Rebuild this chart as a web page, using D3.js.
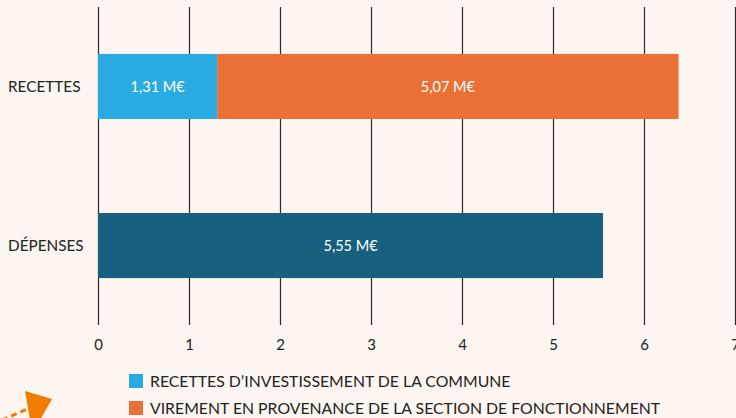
<!DOCTYPE html>
<html>
<head>
<meta charset="utf-8">
<script src="https://cdn.jsdelivr.net/npm/d3@7"></script>
<style>
  html, body { margin: 0; padding: 0; background: #fdf5ef; }
  svg { display: block; font-family: Lato, "Open Sans", sans-serif; }
</style>
</head>
<body>
<script>
// ===============================
// DONNÉES
// ===============================
const categories = ["RECETTES", "DÉPENSES"];
const seriesKeys = ["invest", "virement", "depenses"];
const seriesLabels = [
  "RECETTES D\u2019INVESTISSEMENT DE LA COMMUNE",
  "VIREMENT EN PROVENANCE DE LA SECTION DE FONCTIONNEMENT"
];
const investValues = [1.31, 0];
const virementValues = [5.07, 0];
const depensesValues = [0, 5.55];
const xTicks = [0, 1, 2, 3, 4, 5, 6, 7];

// ===============================
// CONFIGURATION
// ===============================
const width = 736;
const height = 418;
const colors = { invest: "#29abe2", virement: "#eb7035", depenses: "#17607f" };

const svg = d3.select("body").append("svg")
  .attr("width", width)
  .attr("height", height);

const x = d3.scaleLinear().domain([0, 7]).range([98, 735]);
const y = d3.scaleBand()
  .domain(categories)
  .range([7, 325])
  .paddingInner(0.591)
  .paddingOuter(0.295);

// gridlines
svg.append("g")
  .selectAll("line")
  .data(xTicks)
  .join("line")
  .attr("x1", d => x(d) + 0.5)
  .attr("x2", d => x(d) + 0.5)
  .attr("y1", y.range()[0])
  .attr("y2", y.range()[1])
  .attr("stroke", "#2b2b2b")
  .attr("stroke-width", 1.2);

// tick labels
const axis = svg.append("g")
  .attr("transform", `translate(0,${y.range()[1]})`)
  .call(d3.axisBottom(x).tickValues(xTicks).tickFormat(d3.format("d")).tickSize(0).tickPadding(14));
axis.select(".domain").remove();
axis.selectAll("text")
  .attr("font-family", "Lato, sans-serif")
  .attr("font-size", 15)
  .attr("fill", "#222");

// stacked bars
const rows = categories.map((c, i) => ({
  cat: c, invest: investValues[i], virement: virementValues[i], depenses: depensesValues[i]
}));
const stack = d3.stack().keys(seriesKeys)(rows);

const fmt = v => d3.format(".2f")(v).replace(".", ",") + " M\u20ac";

const layer = svg.append("g")
  .selectAll("g")
  .data(stack)
  .join("g")
  .attr("fill", d => colors[d.key]);

layer.selectAll("rect")
  .data(d => d.filter(s => s[1] > s[0]))
  .join("rect")
  .attr("x", d => x(d[0]))
  .attr("width", d => x(d[1]) - x(d[0]))
  .attr("y", d => y(d.data.cat))
  .attr("height", y.bandwidth());

layer.selectAll("text")
  .data(d => d.filter(s => s[1] > s[0]))
  .join("text")
  .attr("x", d => (x(d[0]) + x(d[1])) / 2)
  .attr("y", d => y(d.data.cat) + y.bandwidth() / 2)
  .attr("dy", "0.35em")
  .attr("text-anchor", "middle")
  .attr("fill", "#fff")
  .attr("font-size", 14.5)
  .text(d => fmt(d[1] - d[0]));

// category labels
svg.append("g")
  .selectAll("text")
  .data(categories)
  .join("text")
  .attr("x", 8)
  .attr("y", d => y(d) + y.bandwidth() / 2)
  .attr("dy", "0.35em")
  .attr("font-size", 15.3)
  .attr("fill", "#222")
  .text(d => d);

// legend
const legend = svg.append("g")
  .selectAll("g")
  .data(seriesLabels)
  .join("g")
  .attr("transform", (d, i) => `translate(129,${374 + i * 27})`);

legend.append("rect")
  .attr("width", 14)
  .attr("height", 14)
  .attr("fill", (d, i) => colors[seriesKeys[i]]);

legend.append("text")
  .attr("x", 21)
  .attr("y", 7)
  .attr("dy", "0.35em")
  .attr("font-size", 15.8)
  .attr("fill", "#222")
  .text(d => d);

// flèche décorative (coin bas gauche)
const deco = svg.append("g").attr("fill", "#f07c00").attr("stroke", "#f07c00");
deco.append("line")
  .attr("x1", 2).attr("y1", 420).attr("x2", 32).attr("y2", 407)
  .attr("stroke-width", 3)
  .attr("stroke-dasharray", "6,4");
deco.append("polygon")
  .attr("points", "25,391 52,399 40,420 30,420")
  .attr("stroke", "none");
</script>
</body>
</html>
